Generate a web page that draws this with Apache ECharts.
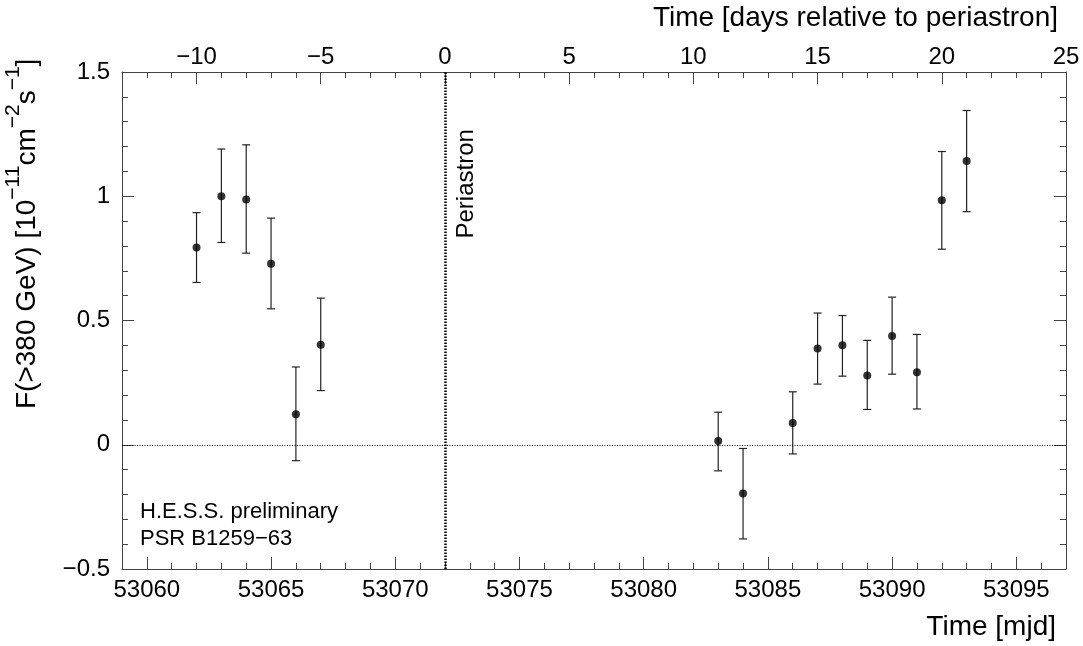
<!DOCTYPE html>
<html>
<head>
<meta charset="utf-8">
<script src="https://cdn.jsdelivr.net/npm/echarts@6/dist/echarts.min.js"></script>
<style>
html,body{margin:0;padding:0;background:#fff;}
#chart{width:1083px;height:646px;}
</style>
</head>
<body>
<div id="chart"></div>
<script>
// ---- data ----
var mjd      = [53062, 53063, 53064, 53065, 53066, 53067, 53083, 53084, 53086, 53087, 53088, 53089, 53090, 53091, 53092, 53093];
var flux     = [0.794, 1.000, 0.987, 0.728, 0.123, 0.402, 0.015, -0.196, 0.088, 0.387, 0.400, 0.279, 0.438, 0.292, 0.984, 1.142];
var errLow   = [0.653, 0.814, 0.771, 0.547, -0.064, 0.218, -0.105, -0.379, -0.037, 0.244, 0.276, 0.142, 0.284, 0.144, 0.787, 0.938];
var errHigh  = [0.934, 1.190, 1.207, 0.912, 0.313, 0.590, 0.131, -0.015, 0.213, 0.530, 0.520, 0.420, 0.594, 0.444, 1.180, 1.345];
var periastronMjd = 53072;
var mjdMin = 53059, mjdMax = 53097;
var mjdTickLabels = [53060, 53065, 53070, 53075, 53080, 53085, 53090, 53095];
var dayTickLabels = [-10, -5, 0, 5, 10, 15, 20, 25];
var fluxMin = -0.5, fluxMax = 1.5, fluxStep = 0.5;

var FONT = 'Liberation Sans, Arial, Helvetica, sans-serif';
var AX = '#444';
function minus(v){ return String(v).replace('-', '\u2212'); }

var chart = echarts.init(document.getElementById('chart'), null, {renderer:'canvas'});

var baseX = {
  type:'value', min:mjdMin, max:mjdMax, splitLine:{show:false}
};

var option = {
  animation:false,
  backgroundColor:'#fff',
  grid:{left:122, right:17, top:72, bottom:77, containLabel:false},
  xAxis:[
    Object.assign({}, baseX, {position:'bottom', interval:1,
      axisLine:{show:true, onZero:false, lineStyle:{color:AX, width:1}},
      axisTick:{show:true, inside:true, length:6, lineStyle:{color:AX}},
      axisLabel:{show:false}}),
    Object.assign({}, baseX, {position:'bottom',
      axisLine:{show:false, onZero:false},
      axisTick:{show:true, inside:true, length:12, customValues:mjdTickLabels, lineStyle:{color:AX}},
      axisLabel:{show:true, customValues:mjdTickLabels, fontSize:24, fontFamily:FONT, color:'#000', margin:9,
        formatter:function(v){return String(v);}}}),
    {type:'value', position:'top', min:mjdMin-periastronMjd, max:mjdMax-periastronMjd, interval:1,
      splitLine:{show:false},
      axisLine:{show:true, onZero:false, lineStyle:{color:AX, width:1}},
      axisTick:{show:true, inside:true, length:6, lineStyle:{color:AX}},
      axisLabel:{show:false}},
    {type:'value', position:'top', min:mjdMin-periastronMjd, max:mjdMax-periastronMjd,
      splitLine:{show:false},
      axisLine:{show:false, onZero:false},
      axisTick:{show:true, inside:true, length:12, customValues:dayTickLabels, lineStyle:{color:AX}},
      axisLabel:{show:true, customValues:dayTickLabels, fontSize:24, fontFamily:FONT, color:'#000', margin:3,
        formatter:function(v){return minus(v);}}}
  ],
  yAxis:[
    {type:'value', position:'left', min:fluxMin, max:fluxMax, interval:fluxStep,
      splitLine:{show:false},
      axisLine:{show:true, onZero:false, lineStyle:{color:AX, width:1}},
      axisTick:{show:true, inside:true, length:12, lineStyle:{color:AX}},
      minorTick:{show:true, splitNumber:5, length:6, lineStyle:{color:AX}},
      axisLabel:{show:true, fontSize:24, fontFamily:FONT, color:'#000', margin:12,
        formatter:function(v){return minus(v);}}},
    {type:'value', position:'right', min:fluxMin, max:fluxMax, interval:fluxStep,
      splitLine:{show:false},
      axisLine:{show:true, onZero:false, lineStyle:{color:AX, width:1}},
      axisTick:{show:true, inside:true, length:12, lineStyle:{color:AX}},
      minorTick:{show:true, splitNumber:5, length:6, lineStyle:{color:AX}},
      axisLabel:{show:false}}
  ],
  series:[
    {
      type:'custom', xAxisIndex:0, yAxisIndex:0, silent:true,
      data: mjd.map(function(m,i){ return [m, flux[i], errLow[i], errHigh[i]]; }),
      encode:{x:0, y:1},
      renderItem:function(params, api){
        var x = api.value(0);
        var pLo = api.coord([x, api.value(2)]);
        var pHi = api.coord([x, api.value(3)]);
        var c = 4;
        var st = {stroke:'#222', lineWidth:1.2};
        return {type:'group', children:[
          {type:'line', shape:{x1:pLo[0], y1:pLo[1], x2:pHi[0], y2:pHi[1]}, style:st},
          {type:'line', shape:{x1:pHi[0]-c, y1:pHi[1], x2:pHi[0]+c, y2:pHi[1]}, style:st},
          {type:'line', shape:{x1:pLo[0]-c, y1:pLo[1], x2:pLo[0]+c, y2:pLo[1]}, style:st}
        ]};
      },
      z:2
    },
    {
      type:'scatter', xAxisIndex:0, yAxisIndex:0,
      data: mjd.map(function(m,i){ return [m, flux[i]]; }),
      symbol:'circle', symbolSize:8,
      itemStyle:{color:'#000'},
      z:3,
      markLine:{
        silent:true, symbol:['none','none'], label:{show:false},
        data:[
          {yAxis:0, lineStyle:{color:'#000', width:1, type:[1,1.5]}},
          {xAxis:periastronMjd, lineStyle:{color:'#000', width:2.5, type:[1.5,1.5]}}
        ]
      }
    }
  ],
  graphic:[
    {type:'text', x:1058, y:18.6, style:{text:'Time [days relative to periastron]', font:'28px '+FONT, fill:'#000', align:'right', verticalAlign:'middle'}},
    {type:'text', x:1056, y:627.3, style:{text:'Time [mjd]', font:'28px '+FONT, fill:'#000', align:'right', verticalAlign:'middle'}},
    {type:'text', x:140, y:512.4, style:{text:'H.E.S.S. preliminary', font:'22px '+FONT, fill:'#000', align:'left', verticalAlign:'middle'}},
    {type:'text', x:140, y:539.1, style:{text:'PSR B1259\u221263', font:'22px '+FONT, fill:'#000', align:'left', verticalAlign:'middle'}},
    {type:'text', x:466.7, y:238.5, rotation:Math.PI/2, style:{text:'Periastron', font:'24px '+FONT, fill:'#000', align:'left', verticalAlign:'middle'}},
    {type:'text', x:41.3, y:409, rotation:Math.PI/2, style:{
      text:'{a|F(>380 GeV) [10}{s|\u221211}{a|cm}{s|\u22122}{a|s}{s|\u22121}{a|]}',
      align:'left', verticalAlign:'bottom', fill:'#000',
      rich:{
        a:{fontSize:28, fontFamily:FONT, lineHeight:28, verticalAlign:'bottom', fill:'#000'},
        s:{fontSize:21, fontFamily:FONT, lineHeight:39, verticalAlign:'top', padding:[0,0,18,0], fill:'#000'}
      }}}
  ]
};
chart.setOption(option);
</script>
</body>
</html>
